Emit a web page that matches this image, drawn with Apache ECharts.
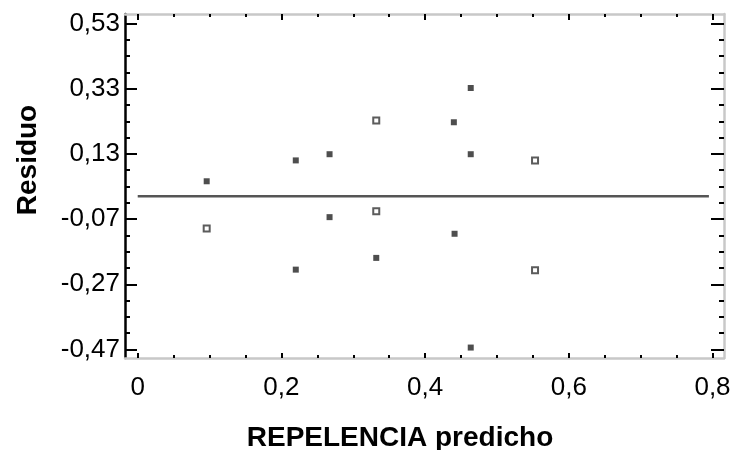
<!DOCTYPE html>
<html>
<head>
<meta charset="utf-8">
<script src="https://cdn.jsdelivr.net/npm/echarts@6/dist/echarts.min.js"></script>
<style>
html,body{margin:0;padding:0;background:#fff;}
#chart{width:735px;height:450px;}
</style>
</head>
<body>
<div id="chart"></div>
<script>
// ---- data ----
const filledX = [0.096, 0.220, 0.220, 0.267, 0.267, 0.332, 0.440, 0.441, 0.4635, 0.4635, 0.4635];
const filledY = [0.046, 0.110, -0.225, 0.129, -0.064, -0.189, 0.227, -0.115, 0.332, 0.129, -0.464];
const hollowX = [0.096, 0.332, 0.332, 0.553, 0.553];
const hollowY = [-0.099, 0.232, -0.046, 0.110, -0.227];
const refLineX = [0, 0.795];
const refLineY = [0, 0];
const xTicks = [0, 0.2, 0.4, 0.6, 0.8];
const yTicks = [-0.47, -0.27, -0.07, 0.13, 0.33, 0.53];
const xMinorTicks = [0,0.05,0.1,0.15,0.2,0.25,0.3,0.35,0.4,0.45,0.5,0.55,0.6,0.65,0.7,0.75,0.8];
const yMinorTicks = [-0.47,-0.42,-0.37,-0.32,-0.27,-0.22,-0.17,-0.12,-0.07,-0.02,0.03,0.08,0.13,0.18,0.23,0.28,0.33,0.38,0.43,0.48,0.53];
const xName = 'REPELENCIA predicho';
const yName = 'Residuo';

const X_MIN = -0.0177, X_MAX = 0.816, Y_MIN = -0.496, Y_MAX = 0.559;
const FONT = "'Liberation Sans', Arial, sans-serif";
const gray = '#c8c8c8';

function xAx(pos, values, len, opts) {
  const o = Object.assign({
    type: 'value', position: pos, min: X_MIN, max: X_MAX,
    splitLine: {show: false},
    axisLine: {show: false},
    axisTick: {show: true, inside: true, length: len, customValues: values, lineStyle: {color: '#000', width: 2}},
    axisLabel: {show: false}
  }, opts || {});
  o.axisLine = Object.assign({onZero: false}, o.axisLine);
  return o;
}
function yAx(pos, values, len, opts) {
  const o = Object.assign({
    type: 'value', position: pos, min: Y_MIN, max: Y_MAX,
    splitLine: {show: false},
    axisLine: {show: false},
    axisTick: {show: true, inside: true, length: len, customValues: values, lineStyle: {color: '#000', width: 2}},
    axisLabel: {show: false}
  }, opts || {});
  o.axisLine = Object.assign({onZero: false}, o.axisLine);
  return o;
}

const chart = echarts.init(document.getElementById('chart'), null, {renderer: 'canvas'});
chart.setOption({
  animation: false,
  backgroundColor: '#fff',
  grid: {left: 125, right: 11, top: 14, bottom: 92, containLabel: false, outerBoundsMode: 'none'},
  xAxis: [
    xAx('bottom', xTicks, 5, {
      axisLine: {show: true, lineStyle: {color: gray, width: 2.5}},
      axisLabel: {show: true, customValues: xTicks, margin: 17, color: '#000', fontSize: 26, fontFamily: FONT,
        formatter: v => v === 0 ? '0' : v.toFixed(1).replace('.', ',')},
      name: xName, nameLocation: 'middle', nameGap: 66,
      nameTextStyle: {color: '#000', fontSize: 28, fontWeight: 'bold', fontFamily: FONT, padding: [0, 49, 0, 0]}
    }),
    xAx('bottom', xMinorTicks, 3),
    xAx('top', xTicks, 6, {axisLine: {show: true, lineStyle: {color: gray, width: 2.5}}}),
    xAx('top', xMinorTicks, 3)
  ],
  yAxis: [
    yAx('left', yTicks, 12, {
      axisLine: {show: true, lineStyle: {color: '#000', width: 2.5}},
      axisLabel: {show: true, customValues: yTicks, margin: 5, color: '#000', fontSize: 26, fontFamily: FONT,
        formatter: v => v.toFixed(2).replace('.', ',')},
      name: yName, nameLocation: 'middle', nameGap: 83, nameRotate: 90,
      nameTextStyle: {color: '#000', fontSize: 28, fontWeight: 'bold', fontFamily: FONT, padding: [0, 0, 0, 52]}
    }),
    yAx('left', yMinorTicks, 5),
    yAx('right', yTicks, 13, {axisLine: {show: true, lineStyle: {color: gray, width: 2.5}}}),
    yAx('right', yMinorTicks, 5)
  ],
  series: [
    {
      type: 'line', xAxisIndex: 0, yAxisIndex: 0, silent: true,
      data: refLineX.map((x, i) => [x, refLineY[i]]),
      symbol: 'none', lineStyle: {color: '#555', width: 2.5}
    },
    {
      type: 'scatter', xAxisIndex: 0, yAxisIndex: 0, silent: true,
      data: filledX.map((x, i) => [x, filledY[i]]),
      symbol: 'rect', symbolSize: 6, itemStyle: {color: '#222'}
    },
    {
      type: 'scatter', xAxisIndex: 0, yAxisIndex: 0, silent: true,
      data: hollowX.map((x, i) => [x, hollowY[i]]),
      symbol: 'rect', symbolSize: 6, itemStyle: {color: '#fff', borderColor: '#333', borderWidth: 2}
    }
  ]
});
</script>
</body>
</html>
